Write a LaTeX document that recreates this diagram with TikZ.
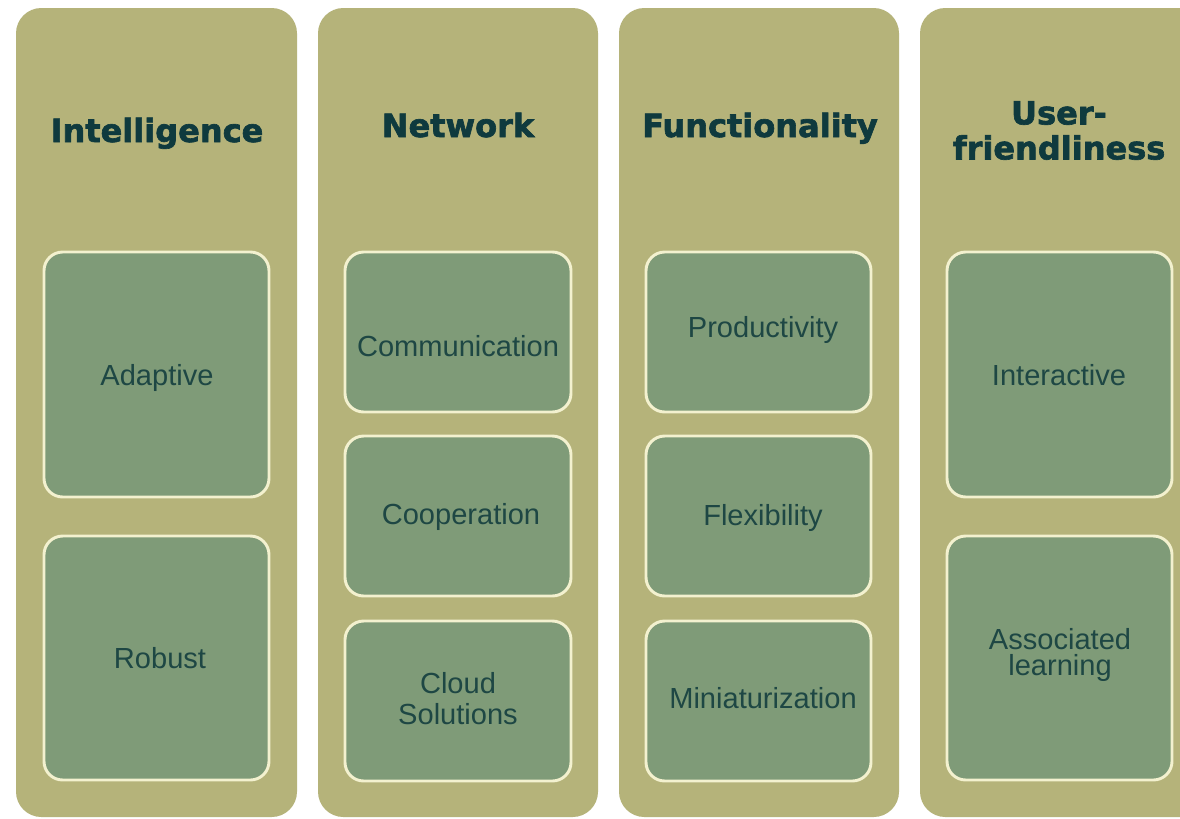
\documentclass[tikz,border=0pt]{standalone}
\usepackage{fontspec}
\setmainfont{Liberation Sans}
\newfontfamily\titlefont[BoldFeatures={FakeBold=2}]{DejaVu Sans}
\definecolor{colbg}{HTML}{B5B37A}
\definecolor{boxbg}{HTML}{7F9B78}
\definecolor{boxline}{HTML}{F3F1CF}
\definecolor{titlecol}{HTML}{0F3A3E}
\definecolor{textcol}{HTML}{1E4744}
\begin{document}
\begin{tikzpicture}[x=0.75pt,y=-0.75pt,
  column/.style={fill=colbg,draw=none,rounded corners=19pt},
  itembox/.style={fill=boxbg,draw=boxline,line width=2.2pt,rounded corners=14pt},
  title/.style={font=\titlefont\bfseries\fontsize{24}{26.25}\selectfont,text=titlecol,align=center,inner sep=0pt},
  item/.style={font=\fontsize{21.8}{24}\selectfont,text=textcol,align=center,inner sep=0pt}]
\useasboundingbox (0,0) rectangle (1180,818);
\fill[white] (0,0) rectangle (1180,818);
% columns
\fill[column] (16,8) rectangle (297,817);
\fill[column] (318,8) rectangle (598,817);
\fill[column] (619,8) rectangle (899,817);
\fill[column] (920,8) rectangle (1210,817);
% titles
\node[title,anchor=base] (t1) at (157,142) {Intelligence};
\node[title,anchor=base] (t2) at (458,137) {Network};
\node[title,anchor=base] (t3) at (760,137) {Functionality};
\node[title] (t4) at (1059,130.5) {User-\\friendliness};
% items column 1
\draw[itembox] (44,252) rectangle (269,497);
\node[item,anchor=base] (a1) at (157,385) {Adaptive};
\draw[itembox] (44,536) rectangle (269,780);
\node[item,anchor=base] (a2) at (160,668) {Robust};
% column 2
\draw[itembox] (345,252) rectangle (571,412);
\node[item,anchor=base] (b1) at (458,356) {Communication};
\draw[itembox] (345,436) rectangle (571,596);
\node[item,anchor=base] (b2) at (461,524) {Cooperation};
\draw[itembox] (345,621) rectangle (571,781);
\node[item] (b3) at (458,699) {Cloud\\[-0.8pt]Solutions};
% column 3
\draw[itembox] (646,252) rectangle (871,412);
\node[item,anchor=base] (c1) at (763,337) {Productivity};
\draw[itembox] (646,436) rectangle (871,596);
\node[item,anchor=base] (c2) at (763,525) {Flexibility};
\draw[itembox] (646,621) rectangle (871,781);
\node[item,anchor=base] (c3) at (763,708) {Miniaturization};
% column 4
\draw[itembox] (947,252) rectangle (1172,497);
\node[item,anchor=base] (d1) at (1059,385) {Interactive};
\draw[itembox] (947,536) rectangle (1172,780);
\node[item] (d2) at (1060,655) {Associated\\[-4pt]learning};
\end{tikzpicture}
\end{document}
